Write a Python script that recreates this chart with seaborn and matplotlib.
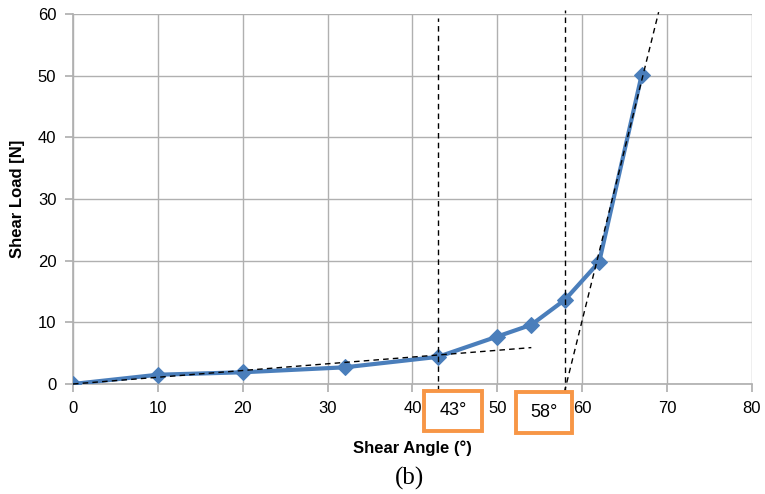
import seaborn as sns
import matplotlib.pyplot as plt
from matplotlib.patches import Rectangle
import pandas as pd

# measured points
shear_angle = [0, 10, 20, 32, 43, 50, 54, 58, 62, 67]
shear_load = [0, 1.5, 1.9, 2.7, 4.4, 7.7, 9.6, 13.7, 19.8, 50.1]

# construction lines (dashed)
tangent1_x = [0, 54]
tangent1_y = [0, 5.9]
tangent2_x = [57.9, 69.0]
tangent2_y = [-1.3, 60.3]
vline43_y = [-5.8, 59.3]
vline58_y = [-1.3, 60.6]
onset_angles = [43, 58]
onset_labels = ['43°', '58°']

df = pd.DataFrame({'angle': shear_angle, 'load': shear_load})

sns.set_theme(style='whitegrid')
plt.rcParams['font.family'] = ['Liberation Sans', 'DejaVu Sans']
plt.rcParams['text.color'] = 'black'
plt.rcParams['axes.labelcolor'] = 'black'

fig = plt.figure(figsize=(7.65, 4.94), dpi=100)
ax = fig.add_axes([0.0954, 0.2227, 0.8876, 0.749])

sns.lineplot(data=df, x='angle', y='load', ax=ax, color='#4a7ebb',
             linewidth=3, marker='D', markersize=8, markeredgecolor='#4a7ebb',
             zorder=3)

kw = dict(color='black', linestyle='--', linewidth=1, dashes=(4, 3), clip_on=False, zorder=4)
ax.plot(tangent1_x, tangent1_y, **kw)
ax.plot(tangent2_x, tangent2_y, **kw)
ax.plot([onset_angles[0]] * 2, vline43_y, **kw)
ax.plot([onset_angles[1]] * 2, vline58_y, **kw)

# orange label boxes below the axis
for (x0, x1, y0, y1), lab in zip([(41.36, 48.19, -7.62, -1.14), (52.19, 58.79, -7.95, -1.30)],
                                  onset_labels):
    ax.add_patch(Rectangle((x0, y0), x1 - x0, y1 - y0, facecolor='white',
                           edgecolor='#f79646', linewidth=2.8, clip_on=False, zorder=5))
    ax.text((x0 + x1) / 2, (y0 + y1) / 2, lab, ha='center', va='center',
            fontsize=13, color='black', clip_on=False, zorder=6)

ax.set_xlim(0, 80)
ax.set_ylim(0, 60)
ax.set_xticks(range(0, 81, 10))
ax.set_yticks(range(0, 61, 10))
ax.grid(True, color='#b0b0b0', linewidth=1)
for s in ax.spines.values():
    s.set_visible(False)
ax.spines['left'].set_visible(True)
ax.spines['bottom'].set_visible(True)
ax.spines['left'].set_color('#b0b0b0')
ax.spines['bottom'].set_color('#b0b0b0')
ax.tick_params(axis='both', which='both', length=6, color='#b0b0b0', labelsize=12,
               labelcolor='black', pad=6, direction='out', bottom=True, left=True)

ax.set_xlabel('Shear Angle (°)', fontsize=12, fontweight='bold', labelpad=18, color='black')
ax.set_ylabel('Shear Load [N]', fontsize=12, fontweight='bold', labelpad=9, color='black')
fig.text(0.535, 0.031, '(b)', fontsize=18, family='Liberation Serif',
         ha='center', va='center', color='black')

fig.savefig('out.png', dpi=100)
